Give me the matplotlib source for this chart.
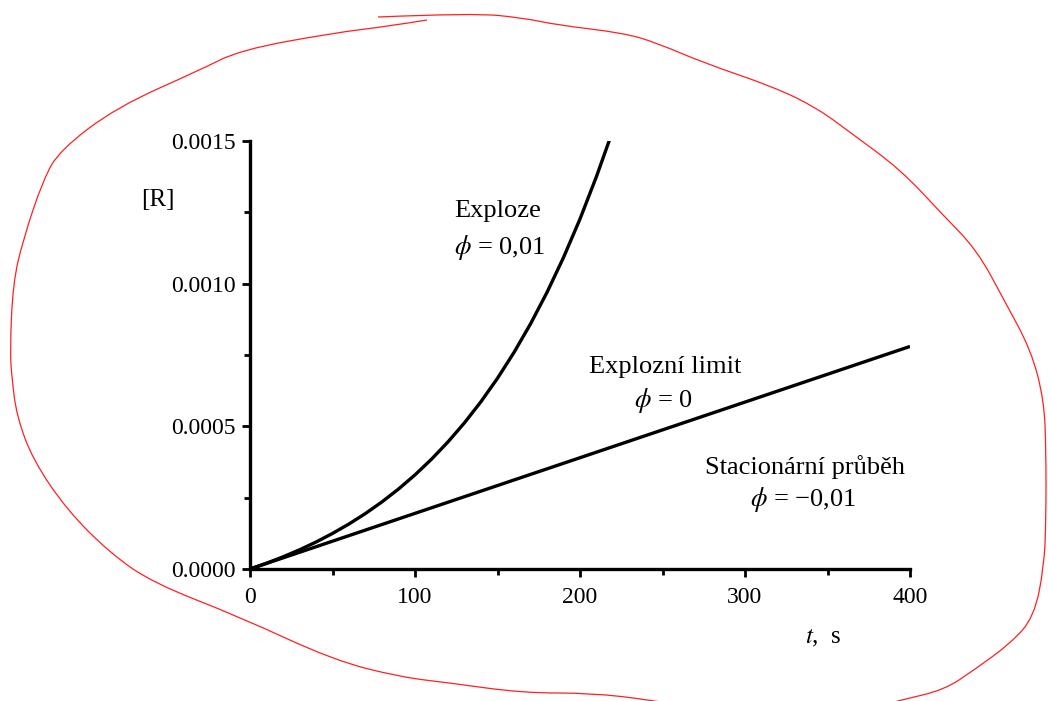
import matplotlib.pyplot as plt
from matplotlib.path import Path
from matplotlib.patches import PathPatch
from matplotlib.ticker import MultipleLocator

plt.rcParams['font.family'] = ['Liberation Serif', 'DejaVu Serif']
plt.rcParams['mathtext.fontset'] = 'stix'

# curve for phi = 0.01
t_expl = [0, 10, 20, 30, 40, 50, 60, 70, 80, 90, 100, 110, 120, 130, 140,
          150, 160, 170, 180, 190, 200, 210, 218]
r_expl = [0.0, 2.02e-5, 4.25e-5, 6.72e-5, 9.44e-5, 1.246e-4, 1.578e-4,
          1.946e-4, 2.353e-4, 2.802e-4, 3.299e-4, 3.848e-4, 4.455e-4,
          5.125e-4, 5.866e-4, 6.685e-4, 7.590e-4, 8.590e-4, 9.695e-4,
          1.0917e-3, 1.2267e-3, 1.3759e-3, 1.506e-3]

# straight line for phi = 0
t_limit = [0, 400]
r_limit = [0.0, 0.00078]

x_ticks = [0, 100, 200, 300, 400]
y_ticks = [0.0, 0.0005, 0.0010, 0.0015]
y_ticklabels = ['0.0000', '0.0005', '0.0010', '0.0015']

# red hand-drawn loop over the scan, in image pixels
red_left = [(427, 20), (390, 26), (333, 33), (240, 50), (200, 70), (117, 107),
            (60, 150), (43, 180), (23, 240), (13, 283), (10, 350), (12, 380),
            (17, 417), (33, 460), (67, 510), (110, 553), (153, 583), (240, 617),
            (333, 660), (400, 677), (450, 683), (523, 693), (591, 693),
            (651, 700), (680, 706)]
red_right = [(378, 17), (473, 13), (524, 18), (557, 25), (624, 33), (657, 43),
             (704, 63), (774, 87), (817, 108), (851, 133), (901, 170),
             (941, 213), (977, 250), (1004, 300), (1031, 350), (1044, 400),
             (1046, 450), (1046, 520), (1044, 567), (1034, 617), (1011, 643),
             (974, 670), (944, 690), (901, 700), (880, 706)]

W, H = 1048, 701
fig = plt.figure(figsize=(W / 100, H / 100), dpi=100)
ax = fig.add_axes([250 / W, 1 - 569 / H, 660 / W, 428 / H])

ax.plot(t_expl, r_expl, color='black', lw=2.4, solid_capstyle='butt')
ax.plot(t_limit, r_limit, color='black', lw=2.4, solid_capstyle='butt')

ax.set_xlim(0, 400)
ax.set_ylim(0, 0.0015)
ax.set_xticks(x_ticks)
ax.set_yticks(y_ticks)
ax.set_yticklabels(y_ticklabels)
ax.xaxis.set_minor_locator(MultipleLocator(50))
ax.yaxis.set_minor_locator(MultipleLocator(0.00025))
ax.tick_params(which='major', direction='out', length=6, width=2,
               labelsize=17, color='black')
ax.tick_params(axis='x', which='major', pad=7)
ax.tick_params(axis='y', which='major', pad=4)
ax.tick_params(which='minor', direction='out', length=4, width=2)

for side in ['top', 'right']:
    ax.spines[side].set_visible(False)
for side in ['left', 'bottom']:
    ax.spines[side].set_linewidth(2.4)
ax.patch.set_visible(False)


def px_text(x, y, s, size=19):
    fig.text(x / W, 1 - y / H, s, ha='center', va='center', fontsize=size)


px_text(158, 200, '[R]', 18)
px_text(823, 638, r'$t$,  s', 18)
px_text(498, 211, 'Exploze')
px_text(500, 247, r'$\phi$ = 0,01')
px_text(665, 367, 'Explozní limit')
px_text(663, 401, r'$\phi$ = 0')
px_text(805, 467, 'Stacionární průběh')
px_text(803, 500, r'$\phi$ = −0,01')


# pen stroke: quadratic pieces through the midpoints, so it looks hand drawn
def pen_path(pts):
    p = [(x / W, 1 - y / H) for x, y in pts]
    verts = [p[0]]
    codes = [Path.MOVETO]
    for i in range(1, len(p) - 1):
        mid = ((p[i][0] + p[i + 1][0]) / 2, (p[i][1] + p[i + 1][1]) / 2)
        verts += [p[i], mid]
        codes += [Path.CURVE3, Path.CURVE3]
    verts.append(p[-1])
    codes.append(Path.LINETO)
    return Path(verts, codes)


for pts in (red_left, red_right):
    fig.add_artist(PathPatch(pen_path(pts), facecolor='none',
                             edgecolor='#ff2020', lw=0.9,
                             transform=fig.transFigure))

fig.savefig('out.png', dpi=100)
